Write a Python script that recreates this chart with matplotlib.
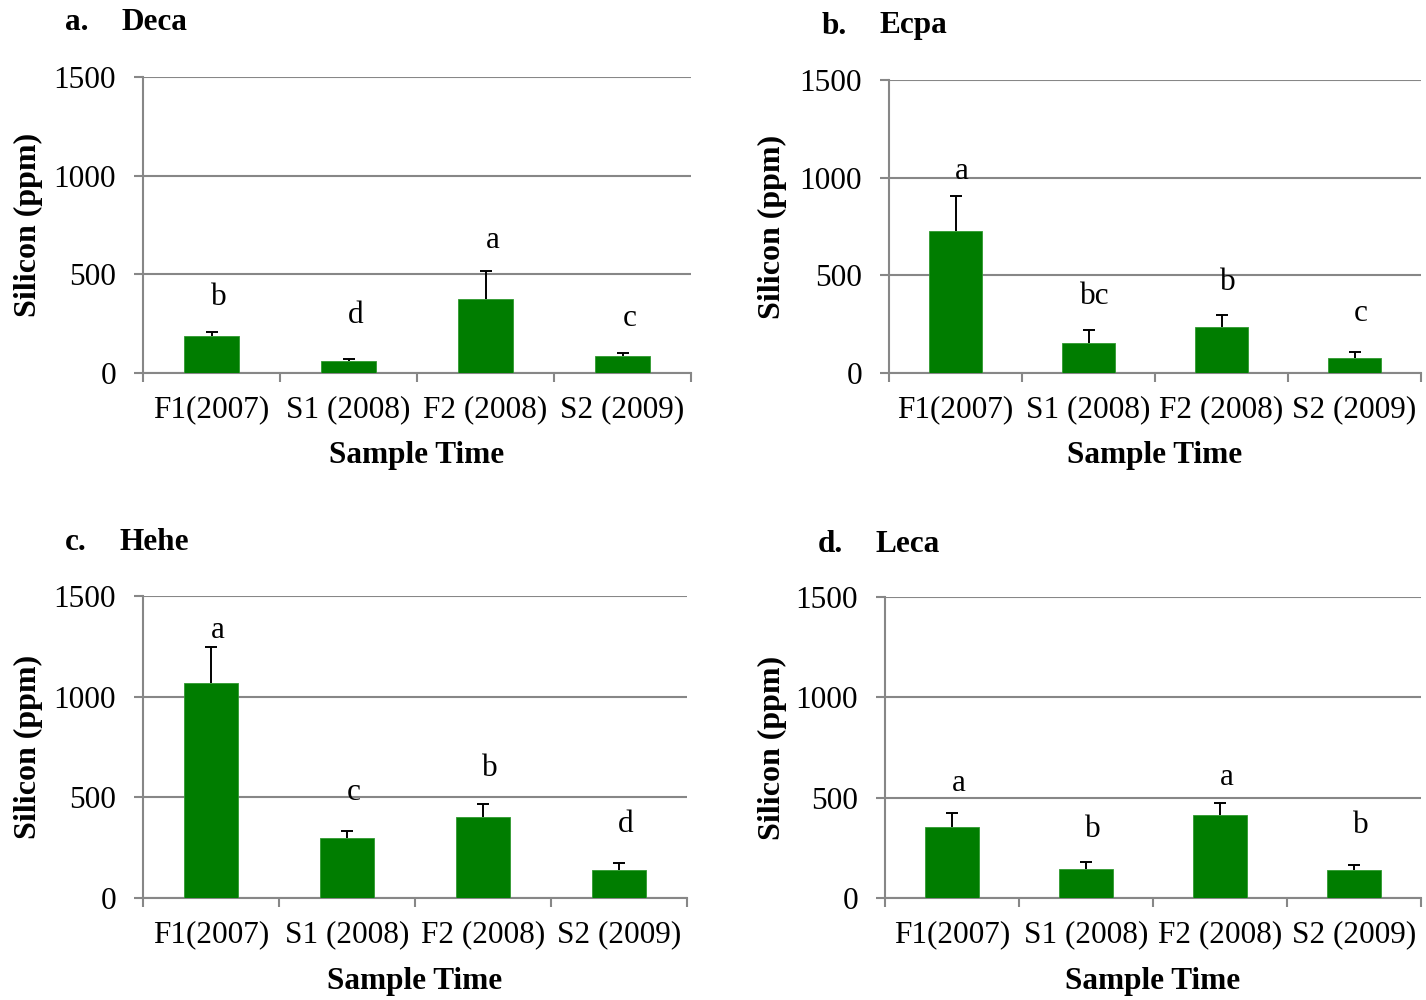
#!/usr/bin/env python3
import matplotlib.pyplot as plt
import numpy as np

# --- Data ---
sample_times = ["F1(2007)", "S1 (2008)", "F2 (2008)", "S2 (2009)"]

deca_mean = [188, 62, 376, 85]
deca_se = [20, 7, 139, 16]
deca_groups = ["b", "d", "a", "c"]
deca_group_height = [385, 289, 669, 274]

ecpa_mean = [728, 155, 237, 78]
ecpa_se = [176, 65, 59, 28]
ecpa_groups = ["a", "bc", "b", "c"]
ecpa_group_height = [1030, 390, 462, 303]

hehe_mean = [1069, 296, 404, 139]
hehe_se = [179, 35, 63, 33]
hehe_groups = ["a", "c", "b", "d"]
hehe_group_height = [1331, 522, 641, 363]

leca_mean = [354, 144, 414, 138]
leca_se = [72, 33, 58, 26]
leca_groups = ["a", "b", "a", "b"]
leca_group_height = [571, 343, 601, 363]

# --- Style ---
plt.rcParams['font.family'] = ['Liberation Serif', 'DejaVu Serif']
W, H = 1426, 1000
bar_color = '#007d00'
grid_color = '#878787'
fs = 22.5

fig = plt.figure(figsize=(W / 100, H / 100), dpi=100)

# pixel boxes (left, top, right, bottom) for each panel
panels = [
    ("a.", "Deca", (143, 77, 691, 373), deca_mean, deca_se, deca_groups, deca_group_height, (65, 21), 122),
    ("b.", "Ecpa", (889, 80, 1421, 373), ecpa_mean, ecpa_se, ecpa_groups, ecpa_group_height, (822, 25), 880),
    ("c.", "Hehe", (143, 596, 687, 898), hehe_mean, hehe_se, hehe_groups, hehe_group_height, (65, 541), 120),
    ("d.", "Leca", (885, 597, 1421, 898), leca_mean, leca_se, leca_groups, leca_group_height, (818, 544), 876),
]

for letter, name, box, mean, se, groups, group_h, title_xy, name_x in panels:
    l, t, r, b = box
    ax = fig.add_axes([l / W, 1 - b / H, (r - l) / W, (b - t) / H])
    x = range(len(sample_times))

    ax.bar(x, mean, width=0.4, color=bar_color, edgecolor='#2f9a2f', linewidth=0.6, zorder=3)
    # upper error bars only
    eb = ax.errorbar(x, mean, yerr=[[0] * len(se), se], fmt='none', ecolor='black',
                     elinewidth=1.4, capsize=4.5, capthick=1.4, zorder=2.5)
    for cap in eb[1]:
        if np.allclose(cap.get_ydata(), mean):
            cap.set_visible(False)

    for xi, g, gy in zip(x, groups, group_h):
        ax.text(xi + 0.05, gy, g, ha='center', va='center', fontsize=fs, zorder=5)

    ax.set_xlim(-0.5, len(sample_times) - 0.5)
    ax.set_ylim(0, 1500)
    ax.set_yticks([0, 500, 1000, 1500])
    ax.set_xticks(list(x))
    ax.set_xticklabels(sample_times)
    ax.set_xticks([i - 0.5 for i in range(len(sample_times) + 1)], minor=True)

    ax.grid(axis='y', color=grid_color, linewidth=1.5, zorder=0)
    ax.set_axisbelow(True)
    for side in ('top', 'right'):
        ax.spines[side].set_visible(False)
    for side in ('left', 'bottom'):
        ax.spines[side].set_color(grid_color)
        ax.spines[side].set_linewidth(1.5)

    ax.tick_params(axis='y', length=6.5, width=1.5, color=grid_color, pad=13, labelsize=fs)
    ax.tick_params(axis='x', which='major', length=0, pad=16, labelsize=fs)
    ax.tick_params(axis='x', which='minor', length=6.5, width=1.5, color=grid_color)

    ax.set_ylabel("Silicon (ppm)", fontsize=23, fontweight='bold', va='center')
    ylab_x = 28 if l < 500 else 772
    ax.yaxis.set_label_coords((ylab_x - l) / (r - l), 0.5)
    ax.set_xlabel("Sample Time", fontsize=fs, fontweight='bold', va='center')
    ax.xaxis.set_label_coords(0.5, -83 / (b - t))

    fig.text(title_xy[0] / W, 1 - (title_xy[1] + 1) / H, letter, ha='left', va='center',
             fontsize=fs, fontweight='bold')
    fig.text(name_x / W, 1 - (title_xy[1] + 1) / H, name, ha='left', va='center',
             fontsize=fs, fontweight='bold')

fig.savefig("out.png", dpi=100)
